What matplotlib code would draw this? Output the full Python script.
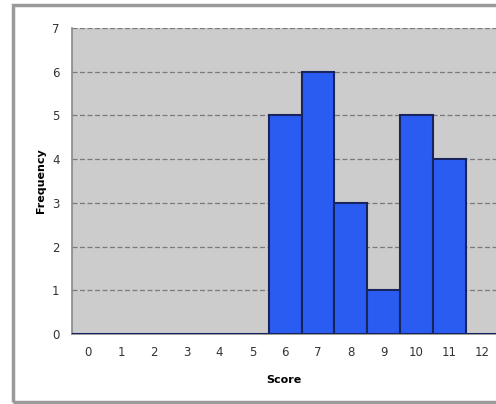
import matplotlib.pyplot as plt
from matplotlib.patches import Rectangle

# 得点と度数
scores = [0, 1, 2, 3, 4, 5, 6, 7, 8, 9, 10, 11, 12]
frequency = [0, 0, 0, 0, 0, 0, 5, 6, 3, 1, 5, 4, 0]
y_ticks = [0, 1, 2, 3, 4, 5, 6, 7]

fig = plt.figure(figsize=(4.96, 4.04), dpi=100)
fig.patch.set_facecolor('white')

# 外枠
fig.patches.append(Rectangle((13 / 496, 2 / 404), 1.0, 397 / 404,
                             transform=fig.transFigure, fill=False,
                             edgecolor='#9a9a9a', linewidth=2.5))

ax = fig.add_axes([72 / 496, 70 / 404, 424 / 496, 306 / 404])
ax.set_facecolor('#cccccc')

ax.bar(scores, frequency, width=1.0, color='#2b5cf2',
       edgecolor='#17245e', linewidth=1.5, zorder=3)

ax.set_xlim(-0.5, 12.43)
ax.set_ylim(0, 7)
ax.set_xticks(scores)
ax.set_yticks(y_ticks)
ax.grid(axis='y', color='#7a7a7a', linestyle=(0, (4, 2)), linewidth=0.9, zorder=1)

ax.tick_params(length=0, labelsize=8.5, colors='#333333', pad=9)
for s in ['top', 'right']:
    ax.spines[s].set_visible(False)
for s in ['left', 'bottom']:
    ax.spines[s].set_color('#888888')
    ax.spines[s].set_linewidth(1.2)

ax.set_xlabel('Score', fontsize=8, fontweight='bold', labelpad=11)
ax.set_ylabel('Frequency', fontsize=8, fontweight='bold', labelpad=4)

plt.savefig('out.png', dpi=100)
